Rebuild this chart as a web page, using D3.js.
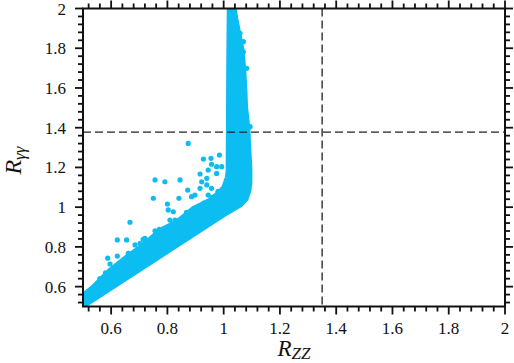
<!DOCTYPE html>
<html lang="en">
<head>
	<script src="https://cdnjs.cloudflare.com/ajax/libs/d3/7.8.5/d3.min.js"></script>
	<style>
		body{ margin:0; background:#fff; }
		svg{ display:block; }
	</style>
</head>
<body>
<svg id="chart" width="514" height="363"></svg>

<script>
	// tick labels
	const xTicks = [0.6, 0.8, 1, 1.2, 1.4, 1.6, 1.8, 2];
	const yTicks = [0.6, 0.8, 1, 1.2, 1.4, 1.6, 1.8, 2];
	const minorTicks = [0.52, 0.56, 0.64, 0.68, 0.72, 0.76, 0.84, 0.88, 0.92, 0.96, 1.04, 1.08, 1.12, 1.16,
		1.24, 1.28, 1.32, 1.36, 1.44, 1.48, 1.52, 1.56, 1.64, 1.68, 1.72, 1.76, 1.84, 1.88, 1.92, 1.96];

	// reference lines
	const xCut = 1.35;
	const yCut = 1.378;

	// outline of the dense cloud of points (R_ZZ, R_gg)
	const cloudX = [0.50, 0.75, 1.00, 1.03, 1.06, 1.08, 1.09, 1.094, 1.094, 1.090, 1.087, 1.079, 1.076, 1.072, 1.065, 1.051, 1.044, 1.038,
		1.019, 1.017, 1.016, 1.015, 1.012, 1.0, 0.98, 0.951, 0.892, 0.833, 0.774, 0.714, 0.655, 0.596, 0.537, 0.50];
	const cloudY = [0.50, 0.73, 0.96, 0.985, 1.01, 1.04, 1.08, 1.12, 1.20, 1.30, 1.40, 1.50, 1.60, 1.70, 1.80, 1.90, 1.95, 2.00,
		2.00, 1.70, 1.40, 1.18, 1.15, 1.10, 1.07, 1.036, 0.994, 0.927, 0.885, 0.81, 0.75, 0.684, 0.60, 0.558];

	// isolated points outside the cloud
	const ptX = [0.874, 0.928, 0.955, 0.985, 0.957, 0.975, 0.993, 0.916, 0.945, 0.940, 0.916, 0.940, 0.957,
		0.756, 0.791, 0.845, 0.872, 0.750, 0.841, 0.800, 0.803, 0.821, 0.667, 0.868, 0.809, 0.827, 0.771, 0.756,
		0.622, 0.655, 0.714, 0.588, 0.596, 0.622, 0.661, 0.685, 0.703, 0.720, 0.886, 0.898, 0.945, 0.922, 0.975,
		1.07, 1.07, 1.082, 1.058, 1.094,
		0.56, 0.58, 0.62, 0.64, 0.68, 0.72, 0.74, 0.77, 0.80, 0.83, 0.86, 0.88, 0.91, 0.93, 0.96, 0.98];
	const ptY = [1.321, 1.242, 1.246, 1.262, 1.216, 1.204, 1.204, 1.167, 1.187, 1.145, 1.095, 1.112, 1.095,
		1.137, 1.128, 1.137, 1.086, 1.045, 1.045, 1.016, 0.986, 0.977, 0.924, 0.974, 0.935, 0.935, 0.888, 0.881,
		0.835, 0.835, 0.838, 0.743, 0.714, 0.754, 0.768, 0.810, 0.818, 0.843, 1.053, 1.061, 1.061, 1.128, 1.170,
		1.833, 1.782, 1.699, 1.875, 1.405,
		0.64, 0.67, 0.70, 0.72, 0.76, 0.79, 0.82, 0.86, 0.88, 0.91, 0.95, 0.97, 1.00, 1.02, 1.05, 1.08];

	const colour = "#0cbdf2";
	const ink = "#111";
	const margin = {top: 8.5, right: 9, bottom: 56.5, left: 83};
	const width = 514 - margin.left - margin.right;
	const height = 363 - margin.top - margin.bottom;

	const svg = d3.select("#chart");
	const g = svg.append("g").attr("transform", `translate(${margin.left},${margin.top})`);

	const x = d3.scaleLinear().domain([0.5, 2]).range([0, width]);
	const y = d3.scaleLinear().domain([0.5, 2]).range([height, 0]);

	g.append("clipPath").attr("id", "clip")
		.append("rect").attr("width", width).attr("height", height);

	const plot = g.append("g").attr("clip-path", "url(#clip)");

	const cloud = cloudX.map((d, i) => [d, cloudY[i]]);
	plot.append("path")
		.datum(cloud)
		.attr("d", d3.line().x(d => x(d[0])).y(d => y(d[1])))
		.attr("fill", colour)
		.attr("stroke", colour)
		.attr("stroke-width", 4.5)
		.attr("stroke-linejoin", "round");

	plot.selectAll("circle.pt")
		.data(ptX.map((d, i) => [d, ptY[i]]))
		.enter()
		.append("circle")
		.attr("class", "pt")
		.attr("cx", d => x(d[0]))
		.attr("cy", d => y(d[1]))
		.attr("r", 2.6)
		.attr("fill", colour);

	// dashed lines
	g.append("line")
		.attr("x1", x(xCut)).attr("x2", x(xCut))
		.attr("y1", 0).attr("y2", height)
		.attr("stroke", "#222").attr("stroke-width", 1.3).attr("stroke-dasharray", "8,4");
	g.append("line")
		.attr("x1", 0).attr("x2", width)
		.attr("y1", y(yCut)).attr("y2", y(yCut))
		.attr("stroke", "#222").attr("stroke-width", 1.3).attr("stroke-dasharray", "8,4");

	// ticks as small filled rects, pointing outwards on all four sides
	const ticks = minorTicks.map(v => ({v, len: 5}))
		.concat(xTicks.map(v => ({v, len: 8})));

	g.selectAll("rect.tb").data(ticks).enter().append("rect")
		.attr("x", d => x(d.v) - 0.9).attr("y", height)
		.attr("width", 1.8).attr("height", d => d.len).attr("fill", ink);
	g.selectAll("rect.tt").data(ticks).enter().append("rect")
		.attr("x", d => x(d.v) - 0.9).attr("y", d => -d.len)
		.attr("width", 1.8).attr("height", d => d.len).attr("fill", ink);
	g.selectAll("rect.tl").data(ticks).enter().append("rect")
		.attr("x", d => -d.len).attr("y", d => y(d.v) - 0.9)
		.attr("width", d => d.len).attr("height", 1.8).attr("fill", ink);
	g.selectAll("rect.tr").data(ticks).enter().append("rect")
		.attr("x", width).attr("y", d => y(d.v) - 0.9)
		.attr("width", d => d.len).attr("height", 1.8).attr("fill", ink);

	const fmt = d => String(+d.toFixed(1));

	g.selectAll("text.xl").data(xTicks).enter().append("text")
		.attr("x", d => x(d))
		.attr("y", height + 27)
		.attr("text-anchor", "middle")
		.attr("font-family", "Liberation Serif")
		.attr("font-size", 17)
		.attr("fill", ink)
		.text(fmt);

	g.selectAll("text.yl").data(yTicks).enter().append("text")
		.attr("x", -17)
		.attr("y", d => y(d) + 6)
		.attr("text-anchor", "end")
		.attr("font-family", "Liberation Serif")
		.attr("font-size", 17)
		.attr("fill", ink)
		.text(fmt);

	g.append("rect")
		.attr("width", width).attr("height", height)
		.attr("fill", "none").attr("stroke", ink).attr("stroke-width", 2);

	// axis titles
	const xt = svg.append("text")
		.attr("x", margin.left + width / 2)
		.attr("y", 356)
		.attr("text-anchor", "middle")
		.attr("font-family", "Liberation Serif")
		.attr("font-style", "italic")
		.attr("font-size", 23)
		.attr("fill", ink);
	xt.append("tspan").text("R");
	xt.append("tspan").attr("font-size", 17).attr("dy", 3).text("ZZ");

	const yt = svg.append("text")
		.attr("transform", `translate(21,${margin.top + height / 2 + 3}) rotate(-90)`)
		.attr("text-anchor", "middle")
		.attr("font-family", "Liberation Serif")
		.attr("font-style", "italic")
		.attr("font-size", 24)
		.attr("fill", ink);
	yt.append("tspan").text("R");
	yt.append("tspan").attr("font-size", 17).attr("dy", 4).text("γγ");
</script>
</body>
</html>
